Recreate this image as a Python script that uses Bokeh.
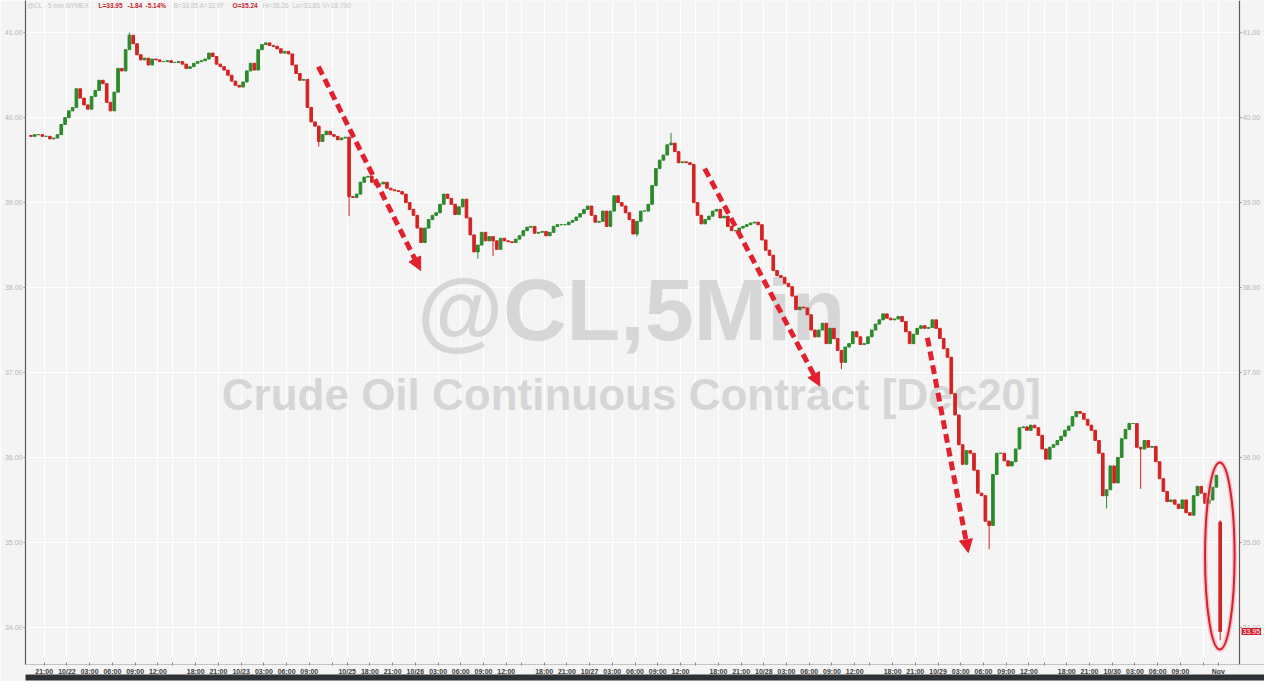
from bokeh.plotting import figure
from bokeh.models import (ColumnDataSource, LinearAxis, FixedTicker, Range1d, Label, Span,
                          Arrow, NormalHead, PrintfTickFormatter, BoxAnnotation)
from bokeh.embed import file_html
from bokeh.resources import INLINE

# ---------------- data: 30-minute closes ----------------
first_open = 39.79
closes = [
    39.78, 39.80, 39.80, 39.78, 39.78, 39.75, 39.76, 39.80, 39.92, 40.00,
    40.08, 40.12, 40.34, 40.23, 40.15, 40.10, 40.25, 40.32, 40.44, 40.40,
    40.18, 40.08, 40.30, 40.58, 40.55, 40.80, 40.97, 40.87, 40.74, 40.68,
    40.70, 40.62, 40.69, 40.68, 40.66, 40.66, 40.67, 40.65, 40.65, 40.66,
    40.63, 40.58, 40.60, 40.64, 40.66, 40.67, 40.69, 40.76, 40.72, 40.63,
    40.60, 40.56, 40.50, 40.43, 40.38, 40.36, 40.42, 40.55, 40.64, 40.56,
    40.80, 40.86, 40.88, 40.85, 40.84, 40.81, 40.76, 40.78, 40.75, 40.62,
    40.52, 40.44, 40.45, 40.12, 39.95, 39.90, 39.72, 39.80, 39.84, 39.80,
    39.78, 39.74, 39.76, 39.77, 39.07, 39.06, 39.10, 39.24, 39.30, 39.31,
    39.24, 39.21, 39.22, 39.24, 39.17, 39.15, 39.14, 39.13, 39.10, 39.00,
    38.92, 38.85, 38.70, 38.53, 38.70, 38.80, 38.85, 38.88, 38.98, 39.10,
    39.05, 38.98, 38.86, 38.95, 39.04, 38.82, 38.62, 38.42, 38.50, 38.65,
    38.55, 38.60, 38.55, 38.45, 38.58, 38.55, 38.54, 38.53, 38.57, 38.61,
    38.67, 38.71, 38.72, 38.64, 38.65, 38.66, 38.61, 38.65, 38.72, 38.74,
    38.74, 38.74, 38.77, 38.79, 38.83, 38.87, 38.92, 38.96, 38.85, 38.77,
    38.78, 38.90, 38.72, 38.90, 39.08, 39.00, 38.96, 38.88, 38.80, 38.63,
    38.78, 38.90, 38.90, 38.98, 39.20, 39.40, 39.50, 39.56, 39.68, 39.70,
    39.60, 39.47, 39.48, 39.47, 39.45, 39.00, 38.85, 38.75, 38.80, 38.84,
    38.90, 38.92, 38.82, 38.84, 38.72, 38.67, 38.67, 38.70, 38.72, 38.74,
    38.76, 38.77, 38.74, 38.56, 38.44, 38.38, 38.20, 38.14, 38.12, 38.05,
    38.01, 37.90, 37.74, 37.77, 37.76, 37.68, 37.50, 37.42, 37.50, 37.58,
    37.34, 37.52, 37.40, 37.26, 37.12, 37.30, 37.34, 37.48, 37.42, 37.33,
    37.34, 37.42, 37.50, 37.57, 37.62, 37.69, 37.64, 37.62, 37.63, 37.66,
    37.60, 37.48, 37.34, 37.45, 37.52, 37.55, 37.52, 37.53, 37.62, 37.52,
    37.40, 37.28, 37.18, 36.75, 36.50, 36.15, 35.92, 36.08, 36.05, 35.85,
    35.58, 35.55, 35.25, 35.20, 35.80, 36.05, 36.05, 35.96, 35.90, 35.95,
    36.10, 36.35, 36.36, 36.32, 36.38, 36.35, 36.26, 36.10, 35.98, 36.12,
    36.15, 36.20, 36.25, 36.32, 36.37, 36.48, 36.54, 36.52, 36.45, 36.38,
    36.32, 36.20, 36.05, 35.55, 35.62, 35.90, 35.70, 36.00, 36.22, 36.33,
    36.40, 36.40, 36.12, 36.10, 36.20, 36.12, 36.13, 35.95, 35.75, 35.60,
    35.48, 35.50, 35.45, 35.40, 35.50, 35.35, 35.32, 35.55, 35.66, 35.58,
    35.46, 35.50, 35.65, 35.79, 33.95,
]
# bars whose wick reaches visibly beyond the body: {bar index: price}
spike_highs = {26: 41.00, 169: 39.82, 314: 35.26}
spike_lows = {76: 39.66, 84: 38.84, 118: 38.34, 122: 38.37, 160: 38.60, 214: 37.04,
              253: 34.92, 284: 35.40, 293: 35.63, 314: 33.85}
gap_opens = {314: 35.24}          # Sunday 11/1 session open
bid, ask, volume = 33.95, 33.97, "18,790"

# x axis in trading hours (session breaks removed)
tick_hours = [2, 5, 8, 11, 14, 17, 19, 22, 25, 28, 31, 34, 37, 40, 42, 45, 48, 51, 54, 57,
              60, 63, 65, 68, 71, 74, 77, 80, 83, 86, 88, 91, 94, 97, 100, 103, 106, 109,
              111, 114, 117, 120, 123, 126, 129, 132, 134, 137, 140, 143, 146, 149, 152,
              155, 157]
tick_labels = ["21:00", "10/22", "03:00", "06:00", "09:00", "12:00", "", "18:00", "21:00",
               "10/23", "03:00", "06:00", "09:00", "", "10/25", "18:00", "21:00", "10/26",
               "03:00", "06:00", "09:00", "12:00", "", "18:00", "21:00", "10/27", "03:00",
               "06:00", "09:00", "12:00", "", "18:00", "21:00", "10/28", "03:00", "06:00",
               "09:00", "12:00", "", "18:00", "21:00", "10/29", "03:00", "06:00", "09:00",
               "12:00", "", "18:00", "21:00", "10/30", "03:00", "06:00", "09:00", "", "Nov"]
price_ticks = [34, 35, 36, 37, 38, 39, 40, 41]
BAR_HOURS = 0.5

# ---------------- derived candle table ----------------
n = len(closes)
opens = [first_open] + closes[:-1]
for k, v in gap_opens.items():
    opens[k] = v
tops = [max(o, c) for o, c in zip(opens, closes)]
bots = [min(o, c) for o, c in zip(opens, closes)]
highs = [spike_highs.get(j, t) for j, t in enumerate(tops)]
lows = [spike_lows.get(j, b) for j, b in enumerate(bots)]
UP, DOWN = "#2b8a2b", "#d42222"
colors = [UP if c >= o else DOWN for o, c in zip(opens, closes)]
src = ColumnDataSource(dict(
    x=[(j + 0.5) * BAR_HOURS for j in range(n)], top=tops, bot=bots,
    h=highs, l=lows, color=colors))

BG = "#f4f4f4"
X0, XR = -0.47, 159.8          # left edge / right price-axis position (trading hours)
X_END = 163.1                  # canvas edge, leaves room for right-hand price labels
p = figure(width=1264, height=681, output_backend="svg", toolbar_location=None,
           x_range=Range1d(X0, X_END), y_range=Range1d(33.563, 41.379),
           min_border_left=25, min_border_right=0, min_border_top=0, min_border_bottom=17,
           background_fill_color=BG, border_fill_color=BG, outline_line_color=None)

# grid
xticker = FixedTicker(ticks=tick_hours, minor_ticks=[])
yticker = FixedTicker(ticks=price_ticks, minor_ticks=[])
p.xgrid.ticker = xticker
p.ygrid.ticker = yticker
p.xgrid.grid_line_color = "white"
p.ygrid.grid_line_color = "white"
# area right of the price axis keeps the plain background
p.add_layout(BoxAnnotation(left=XR, fill_color=BG, fill_alpha=1, line_color=None,
                           level="underlay"))

# bottom time axis
p.xaxis.ticker = xticker
p.xaxis.major_label_overrides = {h: lab for h, lab in zip(tick_hours, tick_labels)}
p.xaxis.major_label_text_font = "Liberation Sans"
p.xaxis.major_label_text_font_size = "7px"
p.xaxis.major_label_text_font_style = "bold"
p.xaxis.major_label_text_color = "#3c3c3c"
p.xaxis.major_label_standoff = 2
p.xaxis.major_tick_in = 2
p.xaxis.major_tick_out = 1
p.xaxis.major_tick_line_color = "#888888"
p.xaxis.axis_line_color = "#c4c4c4"

# dark status strip under the time axis
strip = LinearAxis(ticker=FixedTicker(ticks=[]), major_label_text_font_size="0px",
                   major_tick_line_color=None, minor_tick_line_color=None,
                   axis_line_color="#2e3237", axis_line_width=6)
p.add_layout(strip, "below")

# left price axis
fmt = PrintfTickFormatter(format="%.2f")
ax = p.yaxis[0]
ax.ticker = yticker
ax.formatter = fmt
ax.major_label_text_font = "Liberation Sans"
ax.major_label_text_font_size = "7px"
ax.major_label_text_color = "#b4b4b4"
ax.major_label_standoff = 1
ax.major_tick_in = 0
ax.major_tick_out = 2
ax.major_tick_line_color = "#999999"
ax.axis_line_color = "#5a5a5a"
ax.axis_line_width = 1.2

# right price axis (drawn inside the canvas so the last-price tag can sit on it)
p.add_layout(Span(location=XR, dimension="height", line_color="#5a5a5a", line_width=1.2))
p.segment(x0=[XR] * len(price_ticks), x1=[XR + 0.3] * len(price_ticks),
          y0=price_ticks, y1=price_ticks, line_color="#999999", line_width=1)
for t in price_ticks:
    p.add_layout(Label(x=XR, y=t, x_offset=3, text=f"{t:.2f}", text_font="Liberation Sans",
                       text_font_size="7px", text_color="#b4b4b4", text_baseline="middle"))

# watermark (behind the data)
for txt, size, ypos in (("@CL,5Min", "88px", 37.747),
                        ("Crude Oil Continuous Contract [Dec20]", "44px", 36.741)):
    p.add_layout(Label(x=79.5, y=ypos, text=txt, text_align="center",
                       text_baseline="alphabetic", text_font="Liberation Sans",
                       text_font_style="bold", text_font_size=size,
                       text_color="#d6d6d6", level="underlay"))

# candles
p.segment(x0="x", x1="x", y0="l", y1="h", source=src, line_color="color", line_width=1)
p.vbar(x="x", width=0.7 * BAR_HOURS, top="top", bottom="bot", source=src,
       fill_color="color", line_color="color", line_width=1)

# annotations: dashed red arrows and the circle around the Sunday drop
RED = "#e3202e"
arrows = [(38.2, 40.60, 51.7, 38.20), (89.2, 39.40, 104.4, 36.84), (118.6, 37.41, 124.0, 34.88)]
for xs, ys, xe, ye in arrows:
    p.add_layout(Arrow(x_start=xs, y_start=ys, x_end=xe, y_end=ye,
                       line_color=RED, line_width=5, line_dash="9 5",
                       end=NormalHead(size=13, fill_color=RED, line_color=RED, line_width=1)))
ell_x, ell_y, ell_w, ell_h = 157.2, 34.84, 3.9, 2.2
p.ellipse(x=[ell_x], y=[ell_y], width=ell_w, height=ell_h, fill_color=None,
          line_color="#f2a3ab", line_width=5, line_alpha=0.6)
p.ellipse(x=[ell_x], y=[ell_y], width=ell_w, height=ell_h, fill_color=None,
          line_color="#d3202c", line_width=2)

# header line
last = closes[-1]
prev = closes[-2]
chg = last - prev
pct = chg / prev * 100
GREY, HRED = "#c4c4c4", "#c81e2e"
header = [(2, "@CL - 5 min  NYMEX", GREY, "normal"),
          (73, f"L={last:.2f}", HRED, "bold"),
          (102, f"{chg:.2f}", HRED, "bold"),
          (120, f"{pct:.2f}%", HRED, "bold"),
          (148, f"B={bid:.2f}", GREY, "normal"),
          (174, f"A={ask:.2f}", GREY, "normal"),
          (207, f"O={opens[-1]:.2f}", HRED, "bold"),
          (237, f"Hi={highs[-1]:.2f}", GREY, "normal"),
          (267, f"Lo={lows[-1]:.2f}", GREY, "normal"),
          (297, f"V={volume}", GREY, "normal")]
for hx, txt, col, style in header:
    p.add_layout(Label(x=hx, y=41.315, x_units="screen", y_units="data", text=txt,
                       text_font="Liberation Sans", text_font_size="6.5px",
                       text_font_style=style, text_color=col, text_baseline="middle"))

# last price tag on the right axis
p.add_layout(Label(x=XR, y=last, x_offset=2, text=f"{last:.2f}",
                   text_font="Liberation Sans", text_font_size="7px", text_color="white",
                   text_baseline="middle", background_fill_color="#d41e2a", padding=1))

open("out.html", "w").write(file_html(p, INLINE))
